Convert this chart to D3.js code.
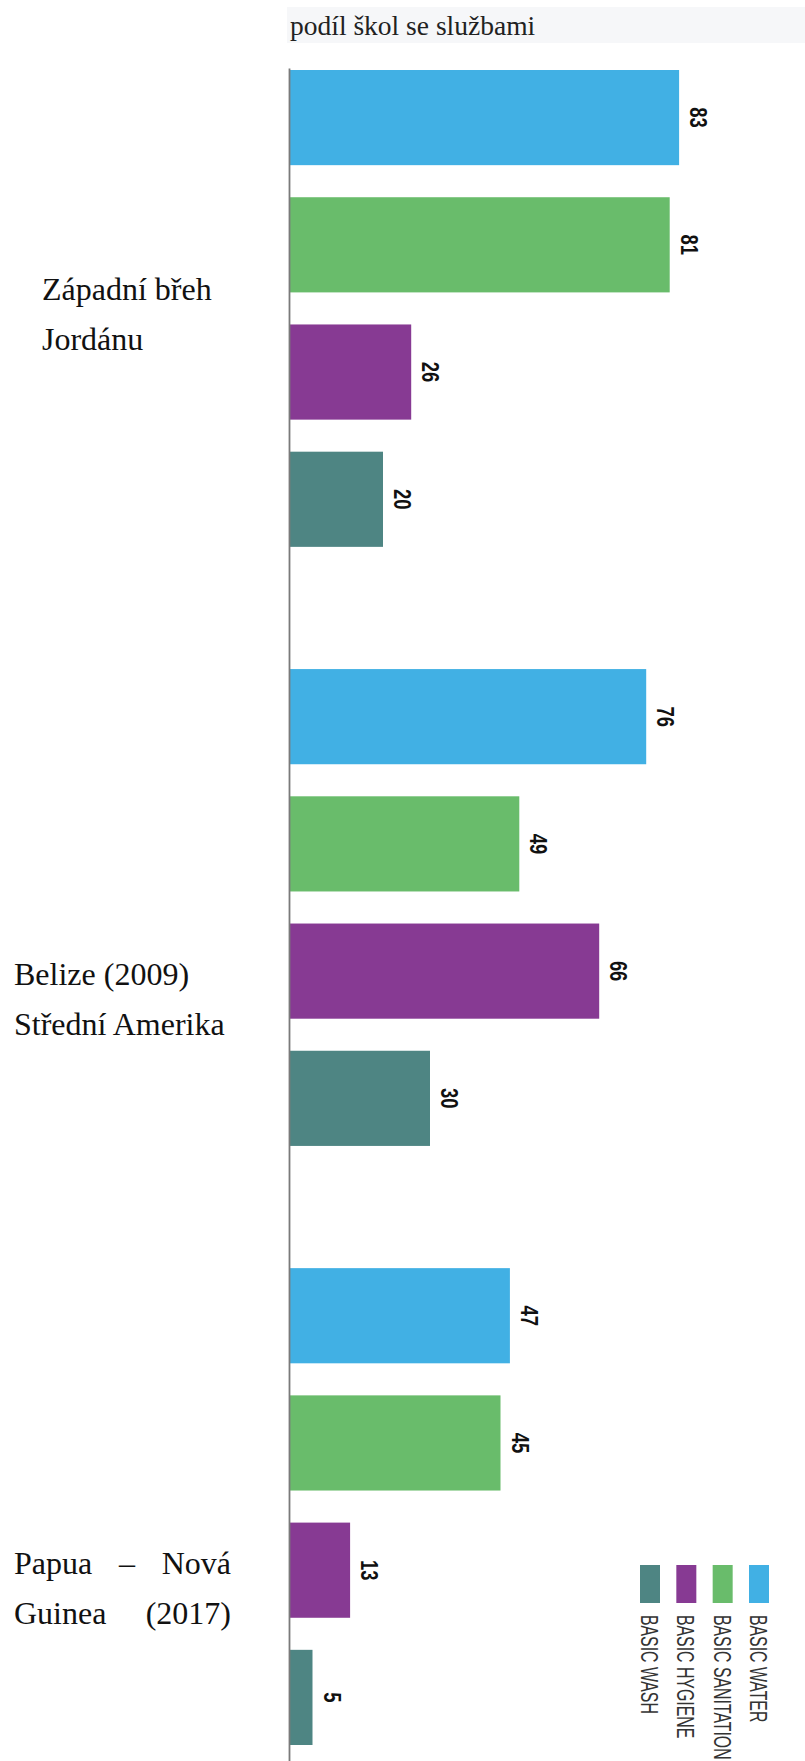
<!DOCTYPE html>
<html><head><meta charset="utf-8">
<script src="https://cdn.jsdelivr.net/npm/d3@7"></script>
<style>html,body{margin:0;padding:0;background:#fff;}svg{display:block;}</style>
</head><body>
<script>
// ---- data ----
const groups = ["Západní břeh Jordánu", "Belize (2009) Střední Amerika", "Papua – Nová Guinea (2017)"];
const groupLabelLines = [["Západní břeh", "Jordánu"], ["Belize (2009)", "Střední Amerika"], ["Papua – Nová", "Guinea (2017)"]];
const series = ["BASIC WATER", "BASIC SANITATION", "BASIC HYGIENE", "BASIC WASH"];
const basicWater = [83, 76, 47];
const basicSanitation = [81, 49, 45];
const basicHygiene = [26, 66, 13];
const basicWash = [20, 30, 5];
const titleText = "podíl škol se službami";

// ---- layout ----
const W = 805, H = 1761;
const colors = ["#41b0e4", "#69bc6b", "#873a93", "#4e8583"];
const seriesValues = [basicWater, basicSanitation, basicHygiene, basicWash];
const labelLayout = [ {x: 42, y: 300, justify: false}, {x: 14, y: 985, justify: false}, {x: 14, y: 1574, justify: true, width: 217} ];

const svg = d3.select("body").append("svg").attr("width", W).attr("height", H);

// title
svg.append("rect").attr("x", 287).attr("y", 7).attr("width", W - 287).attr("height", 36).attr("fill", "#f6f7f9");
svg.append("text").attr("x", 290).attr("y", 35).attr("font-family", "'Liberation Serif', 'Times New Roman', serif")
  .attr("font-size", 27.5).attr("fill", "#222").text(titleText);

const x = d3.scaleLinear().domain([0, 100]).range([289, 759]);
const y0 = d3.scaleBand().domain(groups).range([70, 1745]).paddingInner(0.204).paddingOuter(0);
const y1 = d3.scaleBand().domain(series).range([0, y0.bandwidth()]).paddingInner(0.252).paddingOuter(0);

const rows = [];
groups.forEach((g, gi) => series.forEach((s, si) => rows.push({g, s, v: seriesValues[si][gi], c: colors[si]})));

svg.append("g").selectAll("rect").data(rows).join("rect")
  .attr("x", x(0)).attr("y", d => y0(d.g) + y1(d.s))
  .attr("width", d => x(d.v) - x(0)).attr("height", y1.bandwidth())
  .attr("fill", d => d.c);

// value labels
svg.append("g").selectAll("text").data(rows).join("text")
  .attr("transform", d => `translate(${x(d.v) + 11},${y0(d.g) + y1(d.s) + y1.bandwidth() / 2}) rotate(90) scale(0.8,1)`)
  .attr("text-anchor", "middle")
  .attr("font-family", "'Liberation Sans', Arial, sans-serif").attr("font-weight", "bold")
  .attr("font-size", 23).attr("fill", "#111").text(d => d.v);

// axis line
const yAxis = d3.axisLeft(d3.scaleLinear().range([68, H])).ticks(0).tickSize(0).tickFormat("");
const ax = svg.append("g").attr("transform", `translate(${x(0)},0)`).call(yAxis);
ax.select(".domain").attr("stroke", "#7a7a7a").attr("stroke-width", 1.8);

// group labels
const lg = svg.append("g").attr("font-family", "'Liberation Serif', 'Times New Roman', serif").attr("font-size", 32).attr("fill", "#111");
groupLabelLines.forEach((lines, gi) => {
  const L = labelLayout[gi];
  lines.forEach((line, li) => {
    const yy = L.y + li * 50;
    if (!L.justify) {
      lg.append("text").attr("x", L.x).attr("y", yy).text(line);
    } else {
      const words = line.split(" ");
      const nodes = words.map(w => lg.append("text").attr("y", yy).text(w));
      const widths = nodes.map(n => n.node().getComputedTextLength());
      const total = d3.sum(widths);
      const gap = (L.width - total) / (words.length - 1);
      let cx = L.x;
      nodes.forEach((n, i) => { n.attr("x", cx); cx += widths[i] + gap; });
    }
  });
});

// legend
const legendOrder = ["BASIC WASH", "BASIC HYGIENE", "BASIC SANITATION", "BASIC WATER"];
const lx = d3.scalePoint().domain(legendOrder).range([650, 759]);
const leg = svg.append("g").selectAll("g").data(legendOrder).join("g")
  .attr("transform", d => `translate(${lx(d)},0)`);
leg.append("rect").attr("x", -10).attr("y", 1565).attr("width", 20).attr("height", 38)
  .attr("fill", d => colors[series.indexOf(d)]);
leg.append("text").attr("transform", "translate(-9,1615) rotate(90) scale(0.66,1)")
  .attr("font-family", "'Liberation Sans', Arial, sans-serif").attr("font-size", 24)
  .attr("fill", "#333").text(d => d);
</script>
</body></html>
